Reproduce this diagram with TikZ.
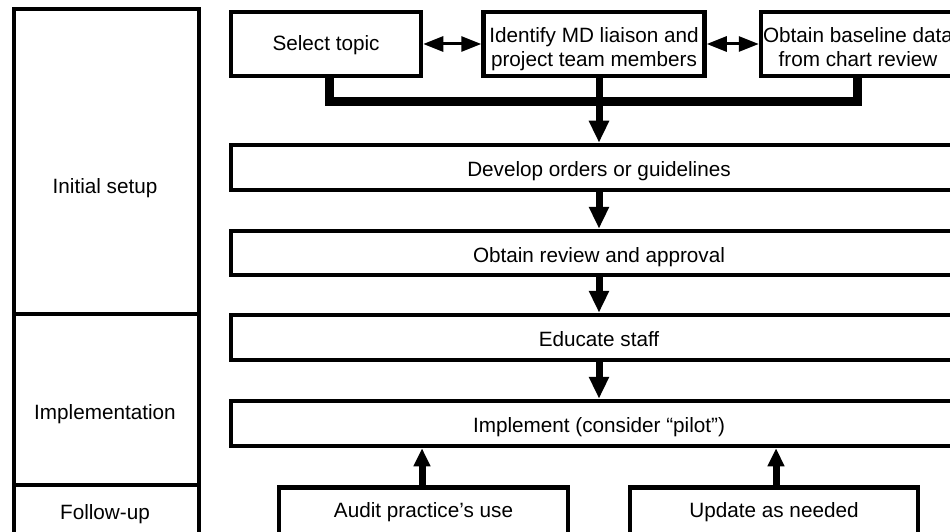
\documentclass[tikz,border=0pt]{standalone}
\usepackage{fontspec}
\setmainfont{Liberation Sans}
\usetikzlibrary{arrows.meta}
\newcommand{\twoline}[2]{\raisebox{-10.5pt}[0pt][0pt]{\begin{tabular}{@{}c@{}}#1\\#2\end{tabular}}}
\begin{document}
\begin{tikzpicture}[x=1pt,y=-1pt,
  box/.style={draw, line width=4.5pt, fill=white, inner sep=0pt, font=\fontsize{20.7}{24}\selectfont},
  one/.style={text height=22.3pt, text depth=3.5pt},
  onetop/.style={text height=17.3pt, text depth=3.5pt},
  onebot/.style={text height=15.3pt, text depth=3.5pt},
  sec/.style={draw, line width=4pt, inner sep=0pt},
  lab/.style={inner sep=0pt, font=\fontsize{20.7}{24}\selectfont},
  bigarrow/.style={line width=7pt, -{Triangle[width=19pt,length=22pt]}},
  uparrow/.style={line width=7pt, -{Triangle[width=16pt,length=18pt]}},
  bus/.style={line width=9pt, line join=miter},
  dbl/.style={line width=3pt, {Triangle[width=15pt,length=20pt]}-{Triangle[width=15pt,length=20pt]}}
]
\useasboundingbox (0,0) rectangle (950,532);
\clip (0,0) rectangle (950,532);
\fill[white] (0,0) rectangle (950,532);

% left column sections
\node[sec, minimum width=185.5pt, minimum height=304.5pt] (s1) at (106.3,161.75) {};
\node[sec, minimum width=185.5pt, minimum height=171pt] (s2) at (106.3,399.5) {};
\node[sec, minimum width=185.5pt, minimum height=75pt] (s3) at (106.3,522.5) {};
\node[lab] (l1) at (105,188) {Initial setup};
\node[lab] (l2) at (105,414) {Implementation};
\node[lab] (l3) at (105,514) {Follow-up};

\coordinate (busc) at (600,102);

% top row
\node[box, onetop, minimum width=190pt, minimum height=64pt] (sel) at (326,44) {Select topic};
\node[box, minimum width=221pt, minimum height=64pt] (ident) at (594,44) {\twoline{Identify MD liaison and}{project team members}};
\node[box, minimum width=194pt, minimum height=64pt] (obt) at (858,44) {\twoline{Obtain baseline data}{from chart review}};

% main column
\node[box, one, minimum width=736pt, minimum height=45pt] (dev) at (599,167.5) {Develop orders or guidelines};
\node[box, one, minimum width=736pt, minimum height=44pt] (rev) at (599,253) {Obtain review and approval};
\node[box, one, minimum width=736pt, minimum height=45pt] (edu) at (599,337.5) {Educate staff};
\node[box, one, minimum width=736pt, minimum height=45pt] (impl) at (599,423.5) {Implement (consider “pilot”)};

% bottom row
\node[box, onebot, minimum width=289pt, minimum height=49pt] (aud) at (423.5,512) {Audit practice’s use};
\node[box, onebot, minimum width=288pt, minimum height=49pt] (upd) at (774,512) {Update as needed};

% connectors
\draw[dbl] (sel.east) -- (ident.west);
\draw[dbl] (ident.east) -- (obt.west);
\draw[bus] ([xshift=3pt]sel.south) -- ([xshift=3pt]sel.south |- busc) -- ([xshift=-1pt]obt.south |- busc) -- ([xshift=-1pt]obt.south);
\draw[bigarrow] (ident.south -| dev.north) -- (dev.north);
\draw[bigarrow] (dev.south) -- (rev.north);
\draw[bigarrow] (rev.south) -- (edu.north);
\draw[bigarrow] (edu.south) -- (impl.north);
\draw[uparrow] ([xshift=-1.5pt]aud.north) -- ([xshift=-1.5pt]aud.north |- impl.south);
\draw[uparrow] ([xshift=2pt]upd.north) -- ([xshift=2pt]upd.north |- impl.south);
\end{tikzpicture}
\end{document}
